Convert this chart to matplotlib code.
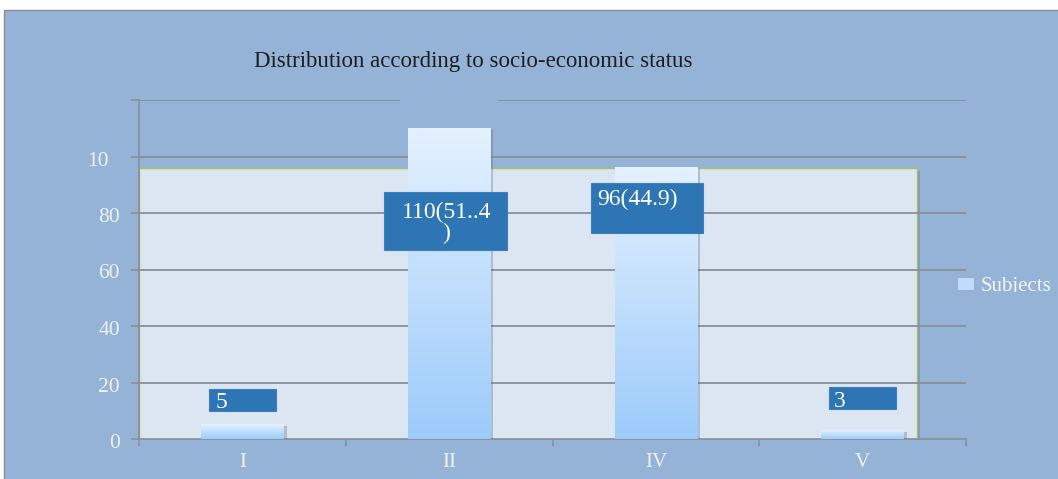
import numpy as np
import matplotlib.pyplot as plt
from matplotlib.patches import Rectangle
from matplotlib.transforms import Bbox, offset_copy
from matplotlib.colors import LinearSegmentedColormap

# Данные: распределение по социально-экономическому статусу
groups = ['I', 'II', 'IV', 'V']
subjects = [5, 110, 96, 3]
bar_labels = ['5', '110(51..4\n)', '96(44.9)', '3']
yticks = [0, 20, 40, 60, 80, 100]
ytick_labels = ['0', '20', '40', '60', '80', '100']
title = 'Distribution according to socio-economic status'

# Размеры картинки в пикселях (dpi=100)
W, H = 1058, 479
serif = 'Liberation Serif'

fig = plt.figure(figsize=(W / 100, H / 100), dpi=100, facecolor='white')

# Голубой фон области диаграммы
fig.add_artist(Rectangle((4 / W, -0.01), 1.0, (H - 10) / H + 0.01, transform=fig.transFigure,
                         facecolor='#95B3D7', edgecolor='#8C8C8C', lw=1.0, zorder=0))

ax = fig.add_axes([139 / W, 40 / H, 827 / W, 339 / H])
ax.patch.set_visible(False)
ax.set_xlim(-0.5, 3.5)
ax.set_ylim(0, 120)

for s in ['top', 'right']:
    ax.spines[s].set_visible(False)
for s in ['left', 'bottom']:
    ax.spines[s].set_color('#8A8F98')
    ax.spines[s].set_linewidth(1.2)
    ax.spines[s].set_zorder(1)

# Светлая внутренняя панель с тенью
shadow_tr = offset_copy(ax.transAxes, fig=fig, x=3, y=-3, units='dots')
ax.add_patch(Rectangle((0, 0), 0.941, 0.8, transform=shadow_tr,
                       facecolor='#5F6F85', alpha=0.35, lw=0, zorder=0.3))
ax.add_patch(Rectangle((0, 0), 0.941, 0.8, transform=ax.transAxes,
                       facecolor='#DCE6F2', edgecolor='#A8C064', lw=1.0, zorder=0.5))

# Сетка (верхняя линия с разрывом)
grid_c = '#8A8F98'
ax.hlines(yticks[1:], -0.5, 3.5, color=grid_c, lw=1.3, zorder=1)
ax.hlines([120, 120], [-0.5, 1.236], [0.762, 3.5], color=grid_c, lw=1.3, zorder=1)

# Деления осей
ax.set_yticks(yticks + [120])
ax.tick_params(axis='y', length=6, width=1.2, color=grid_c, labelleft=False)
ax.set_xticks(np.arange(-0.5, 4, 1.0))
ax.tick_params(axis='x', length=5, width=1.2, color=grid_c, labelbottom=False)

# Подписи оси Y (обрезаны снизу)
ylab_tr = offset_copy(ax.get_yaxis_transform(), fig=fig, x=-19, y=5, units='dots')
for v, lab in zip(yticks, ytick_labels):
    t = ax.text(0, v, lab, transform=ylab_tr, ha='right', va='top', fontsize=15.5,
                family=serif, color='#EEF3FA', clip_on=True)
    py = 40 + v * 339 / 120
    t.set_clip_box(Bbox.from_extents(0, py - 9, 108 if v == 100 else W, H))

# Подписи оси X
xlab_tr = offset_copy(ax.get_xaxis_transform(), fig=fig, x=0, y=-14, units='dots')
for i, g in enumerate(groups):
    t = ax.text(i, 0, g, transform=xlab_tr, ha='center', va='top', fontsize=15,
                family=serif, color='#EEF3FA', clip_on=True)
    t.set_clip_box(Bbox.from_extents(0, 12, W, H))

# Столбцы с градиентной заливкой
bars = ax.bar(range(len(groups)), subjects, width=0.4, color='#BFDDFB', lw=0,
              zorder=2, label='Subjects')
cmap = LinearSegmentedColormap.from_list('bar', ['#9CCBFA', '#E4F1FF'])
grad = np.linspace(0, 1, 256).reshape(-1, 1)
bar_shadow_tr = offset_copy(ax.transData, fig=fig, x=3, y=-1, units='dots')
for b in bars:
    x0, w, h = b.get_x(), b.get_width(), b.get_height()
    ax.add_patch(Rectangle((x0, 0), w, h, transform=bar_shadow_tr,
                           facecolor='#4F6079', alpha=0.3, lw=0, zorder=1.9))
    ax.imshow(grad, extent=[x0, x0 + w, 0, h], origin='lower', cmap=cmap,
              aspect='auto', zorder=2.1)
ax.set_xlim(-0.5, 3.5)
ax.set_ylim(0, 120)

# Подписи значений в синих прямоугольниках
label_boxes = [(-0.161, 0.163, 9.9, 17.7), (0.685, 1.280, 66.9, 87.4),
               (1.686, 2.228, 72.9, 90.6), (2.837, 3.161, 10.6, 18.4)]
label_pos = [('left', 6, -3), ('center', 1, -10), ('left', 6, -6), ('left', 5, -4)]
for lab, (x0, x1, y0, y1), (ha, dx, dy) in zip(bar_labels, label_boxes, label_pos):
    box = Rectangle((x0, y0), x1 - x0, y1 - y0, transform=ax.transData,
                    facecolor='#2E75B6', edgecolor='#3C7FBE', lw=0.8, zorder=3)
    ax.add_patch(box)
    tx = x0 if ha == 'left' else (x0 + x1) / 2
    tr = offset_copy(ax.transData, fig=fig, x=dx, y=dy, units='dots')
    t = ax.text(tx, y1, lab, transform=tr, ha=ha, va='top', fontsize=17, family=serif,
                color='white', linespacing=0.95, multialignment='center', zorder=4, clip_on=True)
    t.set_clip_path(box)

# Легенда
leg = ax.legend(handles=[bars], loc='center left', bbox_to_anchor=(958 / W, (H - 287) / H),
                bbox_transform=fig.transFigure, frameon=False, handlelength=0.75,
                handleheight=0.55, handletextpad=0.35, borderpad=0, borderaxespad=0,
                prop={'family': serif, 'size': 15}, labelcolor='#F2F6FB')
lt = leg.get_texts()[0]
lt.set_clip_on(True)
lt.set_clip_box(Bbox.from_extents(0, H - 292, W, H))

# Заголовок
fig.text(473.5 / W, (H - 61) / H, title, ha='center', va='center', fontsize=16.5,
         family=serif, color='#1E1E1E')

fig.savefig('out.png', dpi=100)
